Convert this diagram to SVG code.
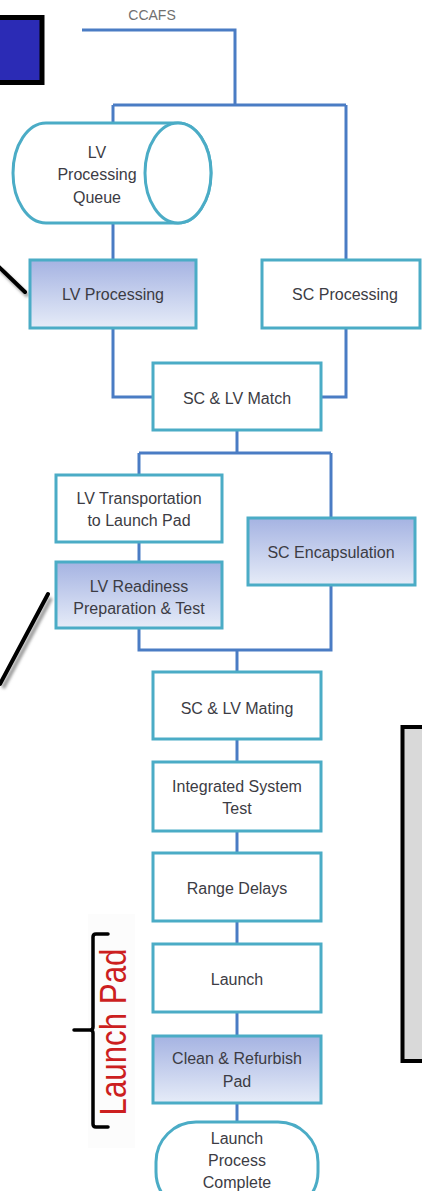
<svg xmlns="http://www.w3.org/2000/svg" width="422" height="1191" viewBox="0 0 422 1191">
<defs>
<linearGradient id="fillg" x1="0" y1="0" x2="0" y2="1">
<stop offset="0" stop-color="#a5b3e2"/>
<stop offset="1" stop-color="#e6ecf8"/>
</linearGradient>
<filter id="sh" x="-50%" y="-50%" width="200%" height="200%">
<feGaussianBlur stdDeviation="1.5"/>
</filter>
</defs>
<style>
.node{fill:#ffffff;stroke:#4bacc6;stroke-width:3}
.shade{fill:url(#fillg);stroke:#4bacc6;stroke-width:3}
.conn{fill:none;stroke:#4a7cc4;stroke-width:3}
.t{font-family:"Liberation Sans",Arial,sans-serif;font-size:16px;fill:#3c3c44;text-anchor:middle}
.call{stroke:#000;stroke-width:4;stroke-linecap:round;fill:none}
.callsh{stroke:#999;stroke-width:4;fill:none;filter:url(#sh)}
</style>
<rect width="422" height="1191" fill="#ffffff"/>

<g id="corner-square">
<rect x="-5" y="17.5" width="47" height="65" fill="#2b2bb5" stroke="#000" stroke-width="5"/>
</g>

<g id="ccafs-label">
<text x="152" y="20" style="font-family:'Liberation Sans',Arial,sans-serif;font-size:14px;fill:#707070;text-anchor:middle">CCAFS</text>
</g>

<g id="connectors">
<path class="conn" d="M82,30 H235 V105"/>
<path class="conn" d="M113,105 H346"/>
<path class="conn" d="M113,105 V123"/>
<path class="conn" d="M346,105 V260"/>
<path class="conn" d="M113,223 V260"/>
<path class="conn" d="M113,328 V397 H153"/>
<path class="conn" d="M346,328 V397 H321"/>
<path class="conn" d="M237,430 V453"/>
<path class="conn" d="M139,453 H331"/>
<path class="conn" d="M139,453 V475"/>
<path class="conn" d="M331,453 V518"/>
<path class="conn" d="M139,542 V562"/>
<path class="conn" d="M139,628 V650 H331 V585"/>
<path class="conn" d="M237,650 V672"/>
<path class="conn" d="M237,739 V762"/>
<path class="conn" d="M237,831 V853"/>
<path class="conn" d="M237,921 V944"/>
<path class="conn" d="M237,1012 V1036"/>
<path class="conn" d="M237,1103 V1122"/>
</g>

<g id="callout-lines">
<path class="callsh" d="M1,270 L28,296"/>
<path class="call" d="M-2,266 L25,292"/>
<path class="callsh" d="M51,598 L3,688"/>
<path class="call" d="M48,594 L0,684"/>
</g>

<g id="lv-processing-queue">
<path class="node" d="M46,123 L178,123 A33,50 0 0 1 178,223 L46,223 A33,50 0 0 1 46,123 Z"/>
<ellipse class="node" cx="178" cy="173" rx="33" ry="50"/>
<text class="t" x="97" y="158">LV</text>
<text class="t" x="97" y="180">Processing</text>
<text class="t" x="97" y="203">Queue</text>
</g>

<g id="lv-processing">
<rect class="shade" x="30" y="260" width="166" height="68"/>
<text class="t" x="113" y="300">LV Processing</text>
</g>

<g id="sc-processing">
<rect class="node" x="262" y="260" width="158" height="68"/>
<text class="t" x="345" y="300">SC Processing</text>
</g>

<g id="sc-lv-match">
<rect class="node" x="153" y="363" width="168" height="67"/>
<text class="t" x="237" y="404">SC &amp; LV Match</text>
</g>

<g id="lv-transportation">
<rect class="node" x="56" y="475" width="166" height="67"/>
<text class="t" x="139" y="504">LV Transportation</text>
<text class="t" x="139" y="526">to Launch Pad</text>
</g>

<g id="sc-encapsulation">
<rect class="shade" x="248" y="518" width="167" height="67"/>
<text class="t" x="331" y="558">SC Encapsulation</text>
</g>

<g id="lv-readiness">
<rect class="shade" x="56" y="562" width="166" height="66"/>
<text class="t" x="139" y="592">LV Readiness</text>
<text class="t" x="139" y="614">Preparation &amp; Test</text>
</g>

<g id="sc-lv-mating">
<rect class="node" x="153" y="672" width="168" height="67"/>
<text class="t" x="237" y="714">SC &amp; LV Mating</text>
</g>

<g id="integrated-system-test">
<rect class="node" x="153" y="762" width="168" height="69"/>
<text class="t" x="237" y="792">Integrated System</text>
<text class="t" x="237" y="814">Test</text>
</g>

<g id="range-delays">
<rect class="node" x="153" y="853" width="168" height="68"/>
<text class="t" x="237" y="894">Range Delays</text>
</g>

<g id="launch">
<rect class="node" x="153" y="944" width="168" height="68"/>
<text class="t" x="237" y="985">Launch</text>
</g>

<g id="clean-refurbish">
<rect class="shade" x="153" y="1036" width="168" height="67"/>
<text class="t" x="237" y="1064">Clean &amp; Refurbish</text>
<text class="t" x="237" y="1087">Pad</text>
</g>

<g id="launch-complete">
<rect class="node" x="156" y="1122" width="162" height="90" rx="40" ry="40"/>
<text class="t" x="237" y="1144">Launch</text>
<text class="t" x="237" y="1166">Process</text>
<text class="t" x="237" y="1188">Complete</text>
</g>

<g id="launch-pad-bracket">
<rect x="88" y="914" width="47" height="234" fill="#fcfcfc"/>
<path d="M108,934 H96 Q93,934 93,937 V1027 Q93,1030 90,1030 H74 M90,1030 Q93,1030 93,1033 V1124 Q93,1127 96,1127 H108" fill="none" stroke="#000" stroke-width="3.5" stroke-linecap="round"/>
<text transform="translate(126,1032) rotate(-90)" x="0" y="0" textLength="167" lengthAdjust="spacingAndGlyphs" style="font-family:'Liberation Sans',Arial,sans-serif;font-size:36px;fill:#cc1f1f;text-anchor:middle">Launch Pad</text>
</g>

<g id="gray-panel">
<rect x="402.5" y="727" width="30" height="334" fill="#d9d9d9" stroke="#000" stroke-width="4"/>
</g>
</svg>
